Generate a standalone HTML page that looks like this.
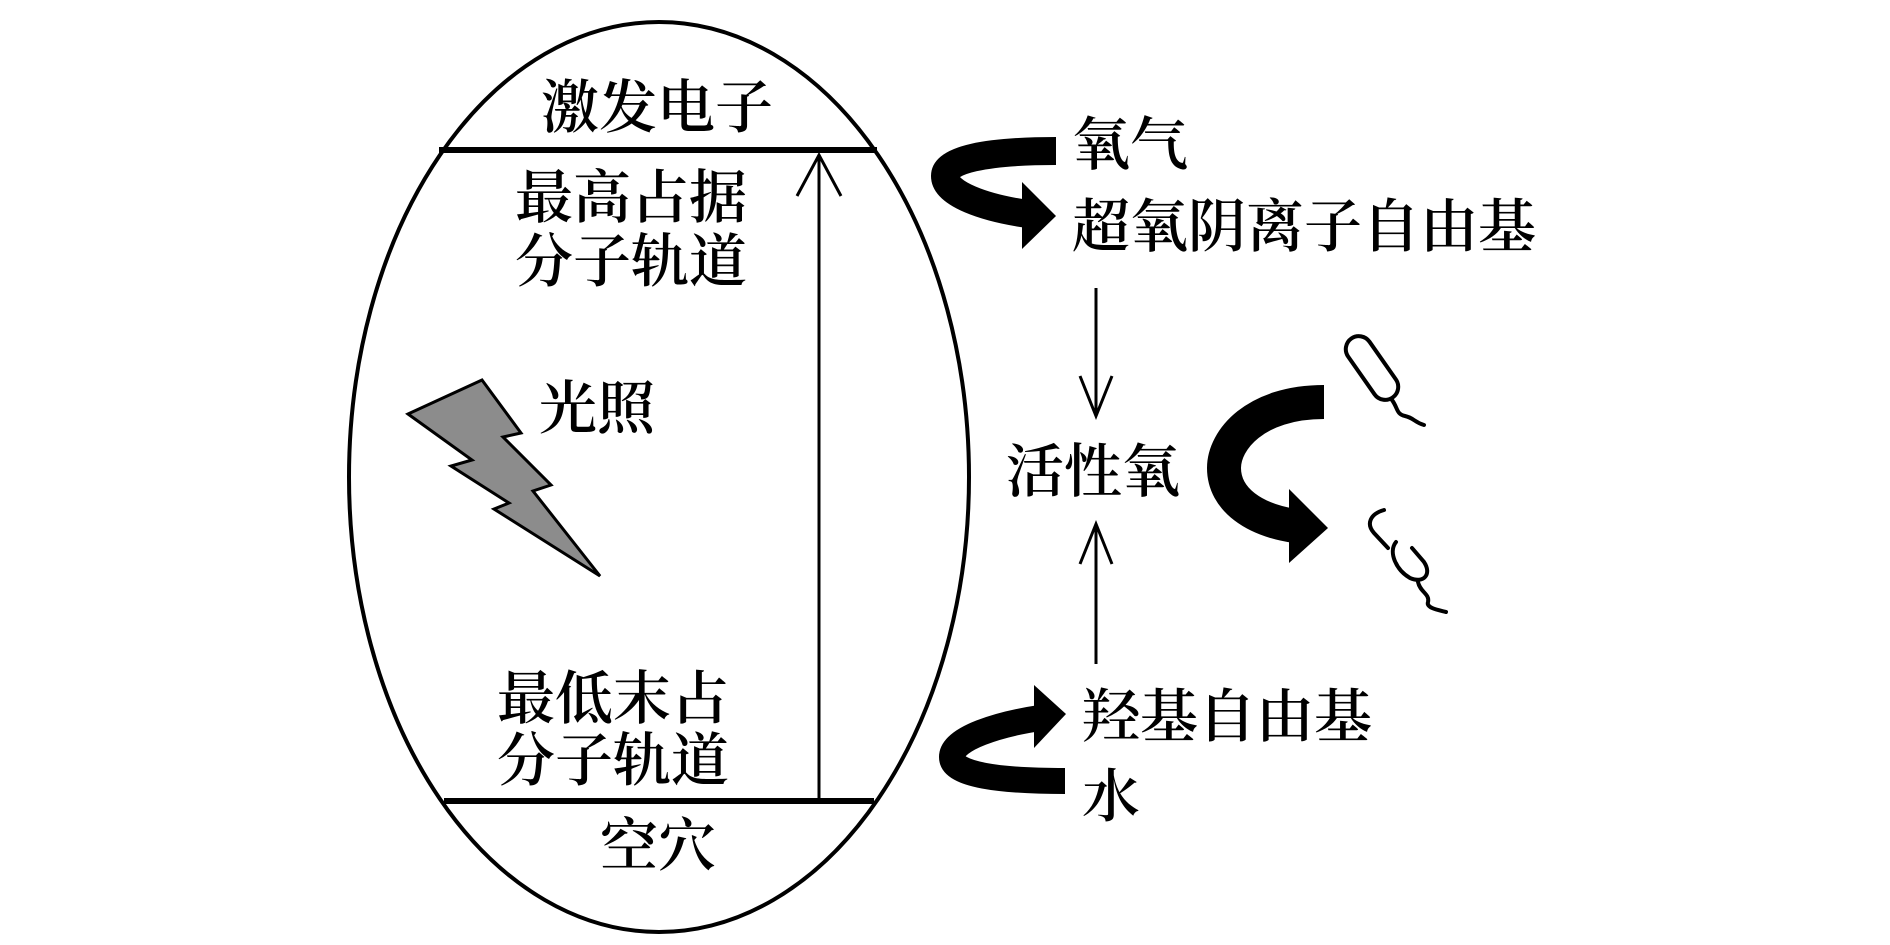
<!DOCTYPE html>
<html><head><meta charset="utf-8"><style>
html,body{margin:0;padding:0;background:#fff}
svg{display:block}
text{font-family:"Liberation Serif","Noto Serif CJK SC",serif;font-size:58px;font-weight:600;fill:#000;dominant-baseline:central}
</style></head><body>
<svg width="1890" height="945" viewBox="0 0 1890 945" xmlns="http://www.w3.org/2000/svg">
<ellipse cx="659" cy="477" rx="310" ry="455" fill="none" stroke="#000" stroke-width="4"/>
<line x1="439" y1="150" x2="877" y2="150" stroke="#000" stroke-width="6"/>
<line x1="444" y1="801" x2="874" y2="801" stroke="#000" stroke-width="6"/>
<line x1="819" y1="801" x2="819" y2="155" stroke="#000" stroke-width="3"/>
<polyline points="797,196 819,155 841,196" fill="none" stroke="#000" stroke-width="3"/>
<text x="541" y="108">激发电子</text>
<text x="515" y="198">最高占据</text>
<text x="515" y="262">分子轨道</text>
<text x="539" y="409">光照</text>
<text x="497" y="699">最低末占</text>
<text x="497" y="761">分子轨道</text>
<text x="600" y="846">空穴</text>
<polygon points="408,414 482,380 521,433 503,437 551,485 533,491 600,576 494,509 509,503 451,466 472,460" fill="#8c8c8c" stroke="#000" stroke-width="3"/>
<text x="1072" y="145">氧气</text>
<text x="1072" y="227">超氧阴离子自由基</text>
<text x="1006" y="472">活性氧</text>
<text x="1082" y="717">羟基自由基</text>
<text x="1082" y="797">水</text>
<line x1="1096" y1="288" x2="1096" y2="416" stroke="#000" stroke-width="3"/>
<polyline points="1080,376 1096,416 1112,376" fill="none" stroke="#000" stroke-width="3"/>
<line x1="1096" y1="524" x2="1096" y2="664" stroke="#000" stroke-width="3"/>
<polyline points="1080,564 1096,524 1112,564" fill="none" stroke="#000" stroke-width="3"/>
<!-- top curved arrow -->
<path d="M1056,151 C985,151 945,160 945,176 C945,194 985,208 1028,214" fill="none" stroke="#000" stroke-width="28"/>
<polygon points="1022,182 1056,216 1022,249" fill="#000"/>
<!-- middle curved arrow -->
<path d="M1324,402 C1255,402 1224,440 1224,468 C1224,500 1255,520 1295,526" fill="none" stroke="#000" stroke-width="34"/>
<polygon points="1289,489 1328,528 1289,563" fill="#000"/>
<!-- bottom curved arrow -->
<path d="M1065,781 C1000,781 952,775 952,757 C952,738 1000,724 1040,718" fill="none" stroke="#000" stroke-width="26"/>
<polygon points="1034,685 1066,714 1034,748" fill="#000"/>
<!-- bacteria -->
<g fill="none" stroke="#000" stroke-width="4" stroke-linecap="round">
<rect x="-13" y="-36" width="26" height="72" rx="13" transform="translate(1372,368) rotate(-35)"/>
<path d="M1392,400 C1398,408 1396,414 1405,416 C1414,418 1414,422 1424,425"/>
<path d="M1384,510 C1370,514 1366,524 1374,533 L1388,548"/>
<path d="M1396,542 C1388,552 1396,570 1410,578 C1424,584 1432,574 1424,562 L1412,548"/>
<path d="M1418,582 C1420,592 1430,594 1428,602 C1426,608 1438,610 1446,612"/>
</g>
</svg>
</body></html>
